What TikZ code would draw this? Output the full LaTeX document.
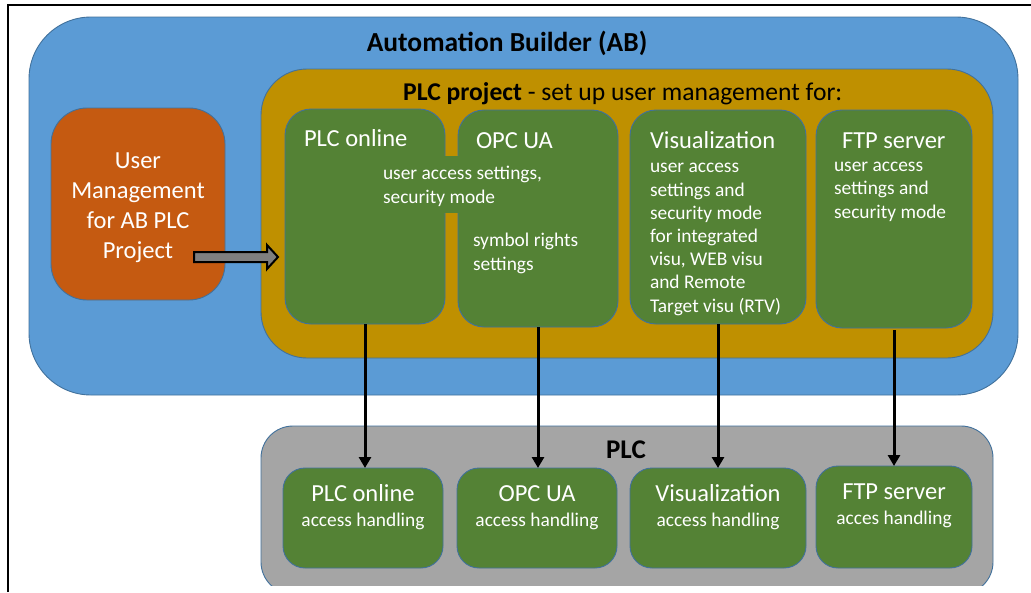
\documentclass[tikz,border=0pt]{standalone}
\usepackage{fontspec}
\setmainfont{Carlito}
\usetikzlibrary{arrows.meta}
\definecolor{abblue}{HTML}{5B9BD5}
\definecolor{edgeblue}{HTML}{41719C}
\definecolor{umorange}{HTML}{C55A11}
\definecolor{projgold}{HTML}{BF9000}
\definecolor{boxgreen}{HTML}{548235}
\definecolor{plcgray}{HTML}{A5A5A5}
\definecolor{arrowgray}{HTML}{7F7F7F}
\tikzset{
  panel/.style={draw=edgeblue, line width=0.9pt, inner sep=0pt, outer sep=0pt, anchor=north west},
  greenbox/.style={panel, fill=boxgreen, rounded corners=26pt},
  hfont/.style={font=\fontsize{24.5}{29.5}\selectfont},
  sfont/.style={font=\fontsize{19.4}{23.2}\selectfont},
  wtext/.style={text=white, inner sep=0pt, outer sep=0pt},
  ttitle/.style={text=black, inner sep=0pt, outer sep=0pt, font=\fontsize{27.5}{30}\selectfont\bfseries},
  flow/.style={line width=3pt, -{Triangle[width=12pt,length=11pt]}},
}
\begin{document}
\begin{tikzpicture}[x=1pt,y=-1pt]
\useasboundingbox (0,0) rectangle (1031,592);
\fill[white] (0,0) rectangle (1031,592);
% frame
\draw[line width=2pt] (8,592) -- (8,5) -- (1031,5);

% Automation Builder
\node[panel, fill=abblue, rounded corners=62pt, minimum width=989pt, minimum height=378pt] (ab) at (29,17) {};
\node[ttitle, anchor=base] (abtitle) at (507,51) {Automation Builder (AB)};

% User management (base anchor = last line)
\node[panel, fill=umorange, rounded corners=36pt, minimum width=174pt, minimum height=192pt] (um) at (51,108) {};
\node[wtext, align=center, anchor=base, font=\fontsize{24.5}{30}\selectfont] (umtext) at (138,258) {User\\Management\\for AB PLC\\Project};

% PLC project
\node[panel, fill=projgold, rounded corners=46pt, minimum width=732pt, minimum height=289pt] (proj) at (261,69) {};
\node[text=black, inner sep=0pt, anchor=base west, font=\fontsize{25.6}{30}\selectfont] (projtitle) at (403,100) {\textbf{PLC project} - set up user management for:};

% green boxes in project
\node[greenbox, minimum width=160pt, minimum height=215pt] (p1) at (285,109) {};
\node[greenbox, minimum width=160pt, minimum height=217pt] (p2) at (458,110) {};
\node[greenbox, minimum width=176pt, minimum height=214pt] (p3) at (630,110) {};
\node[greenbox, minimum width=156pt, minimum height=218pt] (p4) at (816,110) {};
\fill[boxgreen] (440,156) rectangle (463,213);

\node[wtext, hfont, anchor=base west] (p1t) at (304,146) {PLC online};
\node[wtext, sfont, align=left, anchor=base west] (p1s) at (383,203) {user access settings,\\security mode};
\node[wtext, hfont, anchor=base west] (p2t) at (476,148) {OPC UA};
\node[wtext, sfont, align=left, anchor=base west] (p2s) at (473,270) {symbol rights\\settings};
\node[wtext, hfont, anchor=base west] (p3t) at (650,148) {Visualization};
\node[wtext, sfont, align=left, anchor=base west] (p3s) at (650,312) {user access\\settings and\\security mode\\for integrated\\visu, WEB visu\\and Remote\\Target visu (RTV)};
\node[wtext, hfont, anchor=base west] (p4t) at (842,148) {FTP server};
\node[wtext, sfont, align=left, anchor=base west] (p4s) at (834,218) {user access\\settings and\\security mode};

% block arrow
\filldraw[draw=black, fill=arrowgray, line width=2pt, line join=miter]
  (194,252) -- (267,252) -- (267,245) -- (278,257) -- (267,269) -- (267,262) -- (194,262) -- cycle;

% PLC
\begin{scope}
\clip (0,0) rectangle (1031,585);
\node[panel, fill=plcgray, rounded corners=32pt, minimum width=732pt, minimum height=168pt] (plc) at (261,426) {};
\end{scope}
\node[ttitle, anchor=base, font=\fontsize{27}{30}\selectfont\bfseries] (plctitle) at (626,458) {PLC};

\node[greenbox, rounded corners=22pt, minimum width=160pt, minimum height=100pt] (b1) at (283,468) {};
\node[greenbox, rounded corners=22pt, minimum width=160pt, minimum height=100pt] (b2) at (457,468) {};
\node[greenbox, rounded corners=22pt, minimum width=176pt, minimum height=100pt] (b3) at (630,468) {};
\node[greenbox, rounded corners=22pt, minimum width=156pt, minimum height=102pt] (b4) at (816,466) {};

\node[wtext, hfont, anchor=base] (b1t) at (363,501) {PLC online};
\node[wtext, sfont, anchor=base] (b1s) at (363,526) {access handling};
\node[wtext, hfont, anchor=base] (b2t) at (537,501) {OPC UA};
\node[wtext, sfont, anchor=base] (b2s) at (537,526) {access handling};
\node[wtext, hfont, anchor=base] (b3t) at (718,501) {Visualization};
\node[wtext, sfont, anchor=base] (b3s) at (718,526) {access handling};
\node[wtext, hfont, anchor=base] (b4t) at (894,499) {FTP server};
\node[wtext, sfont, anchor=base] (b4s) at (894,524) {acces handling};

% connectors
\draw[flow] (p1.south) -- (p1.south |- b1.north);
\draw[flow] (p2.south) -- (p2.south |- b2.north);
\draw[flow] (p3.south) -- (p3.south |- b3.north);
\draw[flow] ([yshift=-2pt]p4.south) -- (p4.south |- b4.north);
\end{tikzpicture}
\end{document}
